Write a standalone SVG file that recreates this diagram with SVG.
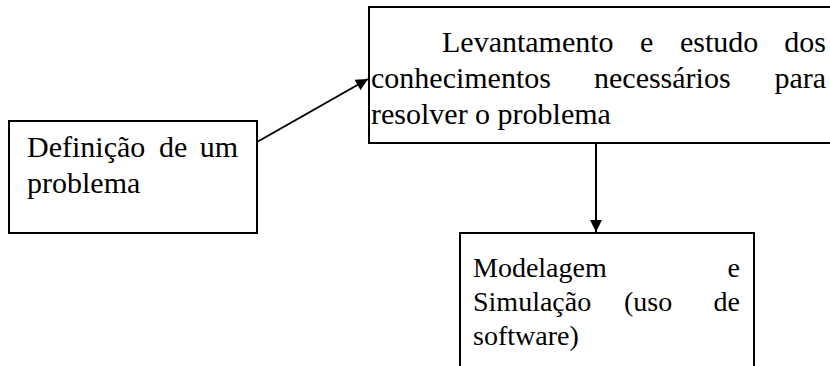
<svg xmlns="http://www.w3.org/2000/svg" width="830" height="366" viewBox="0 0 830 366">
<defs>
<style>
.box{fill:#fff;stroke:#000;stroke-width:2}
.t{font-family:"Liberation Serif","Times New Roman",serif;font-size:30px;fill:#000}
.t3{font-family:"Liberation Serif","Times New Roman",serif;font-size:28px;fill:#000}
.e{text-anchor:end}
.c{stroke:#000;stroke-width:2;fill:none}
</style>
<marker id="ah" viewBox="0 0 10 10" refX="10" refY="5" markerWidth="6.5" markerHeight="6" orient="auto" markerUnits="strokeWidth">
<path d="M0,0 L10,5 L0,10 z" fill="#000"/>
</marker>
</defs>
<rect width="830" height="366" fill="#fff"/>
<g id="node-definicao">
<rect class="box" x="9" y="121" width="248" height="112"/>
<text class="t" x="27" y="157">Definição</text>
<text class="t" x="159" y="157">de</text>
<text class="t e" x="238" y="157">um</text>
<text class="t" x="27" y="193">problema</text>
</g>
<g id="node-levantamento">
<rect class="box" x="369" y="7" width="480" height="136"/>
<text class="t" x="442" y="52">Levantamento</text>
<text class="t" x="640" y="52">e</text>
<text class="t" x="680" y="52">estudo</text>
<text class="t e" x="826" y="52">dos</text>
<text class="t" x="371" y="88">conhecimentos</text>
<text class="t" x="594" y="88">necessários</text>
<text class="t e" x="826" y="88">para</text>
<text class="t" x="371" y="124">resolver o problema</text>
</g>
<g id="node-modelagem">
<rect class="box" x="460" y="233" width="294" height="150"/>
<text class="t3" x="473" y="277">Modelagem</text>
<text class="t3 e" x="740" y="277">e</text>
<text class="t3" x="473" y="311">Simulação</text>
<text class="t3" x="624" y="311">(uso</text>
<text class="t3 e" x="740" y="311">de</text>
<text class="t3" x="473" y="345">software)</text>
</g>
<g id="connectors">
<line class="c" x1="257" y1="142" x2="368" y2="79" marker-end="url(#ah)"/>
<line class="c" x1="596" y1="143" x2="596" y2="232" marker-end="url(#ah)"/>
</g>
</svg>
